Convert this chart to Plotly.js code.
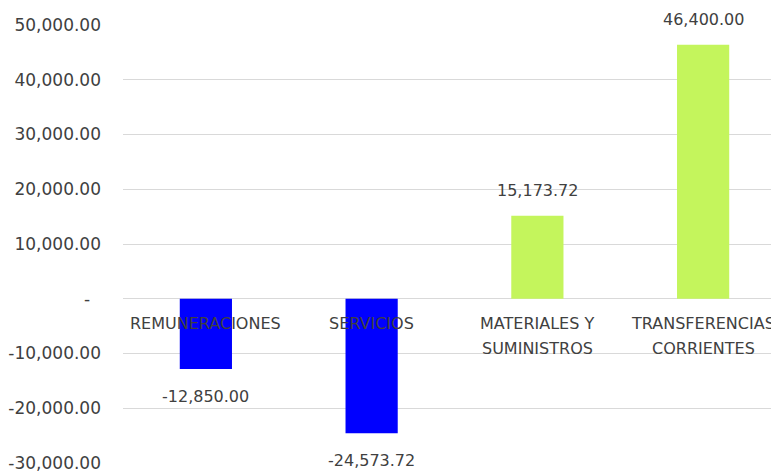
<!DOCTYPE html>
<html>
<head>
<meta charset="utf-8">
<script src="https://cdn.plot.ly/plotly-3.0.1.min.js"></script>
<style>
html,body{margin:0;padding:0;overflow:hidden;background:#fff;}
#chart{width:790px;height:474px;}
</style>
</head>
<body>
<div id="chart"></div>
<script>
// Data
const categories = ["REMUNERACIONES", "SERVICIOS", "MATERIALES Y<br>SUMINISTROS", "TRANSFERENCIAS<br>CORRIENTES"];
const values = [-12850.00, -24573.72, 15173.72, 46400.00];
const valueLabels = ["-12,850.00", "-24,573.72", "15,173.72", "46,400.00"];
const tickValues = [-30000, -20000, -10000, 0, 10000, 20000, 30000, 40000, 50000];
const tickLabels = ["-30,000.00", "-20,000.00", "-10,000.00", "-\u00a0\u00a0", "10,000.00", "20,000.00", "30,000.00", "40,000.00", "50,000.00"];

const BLUE = "#0000FF";
const GREEN = "#C4F55C";
const TXT = "#404040";
const FONT = "DejaVu Sans, Verdana, sans-serif";

const trace = {
  type: "bar",
  x: categories,
  y: values,
  marker: {color: values.map(v => v < 0 ? BLUE : GREEN)},
  hoverinfo: "none"
};

const annotations = [];
categories.forEach((c, i) => {
  const v = values[i];
  annotations.push({
    x: c, y: v, xref: "x", yref: "y",
    text: valueLabels[i], showarrow: false,
    yanchor: v >= 0 ? "bottom" : "top",
    yshift: v >= 0 ? 14 : -16,
    font: {family: FONT, size: 16, color: TXT}
  });
  c.split("<br>").forEach((line, j) => {
    annotations.push({
      x: c, y: 0, xref: "x", yref: "y",
      text: line, showarrow: false,
      yanchor: "middle",
      yshift: -25 - 25 * j,
      font: {family: FONT, size: 16, color: TXT}
    });
  });
});

const layout = {
  width: 790, height: 474,
  margin: {l: 123, r: 4, t: 25, b: 11},
  paper_bgcolor: "#fff", plot_bgcolor: "#fff",
  showlegend: false,
  bargap: 0.685,
  font: {family: FONT, size: 16, color: TXT},
  xaxis: {showticklabels: false, showgrid: false, zeroline: false, showline: false, ticks: ""},
  yaxis: {
    range: [-30000, 50000],
    tickvals: tickValues, ticktext: tickLabels,
    showgrid: true, gridcolor: "#D9D9D9", gridwidth: 1,
    zeroline: true, zerolinecolor: "#D9D9D9", zerolinewidth: 1,
    showline: false, ticks: "",
    ticklabelstandoff: 21,
    tickfont: {family: FONT, size: 17, color: TXT}
  },
  annotations: annotations
};

Plotly.newPlot("chart", [trace], layout, {displayModeBar: false, staticPlot: true});
</script>
</body>
</html>
